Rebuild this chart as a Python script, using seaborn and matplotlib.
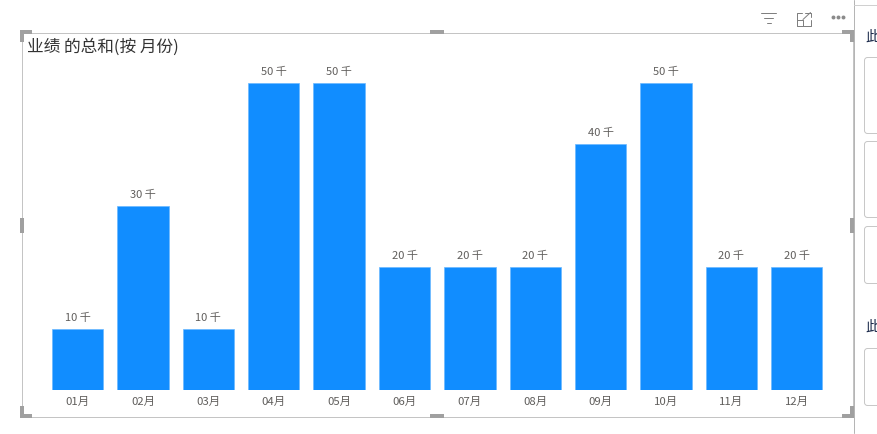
import pandas as pd
import seaborn as sns
import matplotlib
matplotlib.use('Agg')
import matplotlib.pyplot as plt
from matplotlib.patches import Rectangle, FancyBboxPatch

months = ['01月', '02月', '03月', '04月', '05月', '06月', '07月', '08月', '09月', '10月', '11月', '12月']
totals = [10000, 30000, 10000, 50000, 50000, 20000, 20000, 20000, 40000, 50000, 20000, 20000]
bar_labels = ['10 千', '30 千', '10 千', '50 千', '50 千', '20 千', '20 千', '20 千', '40 千', '50 千', '20 千', '20 千']
chart_title = '业绩 的总和(按 月份)'
side_title = '此'

W, H = 877, 434

sns.set_theme(style='white')
plt.rcParams['font.family'] = ['Noto Sans CJK SC', 'DejaVu Sans']

fig = plt.figure(figsize=(W / 100, H / 100), dpi=100)

# overlay in pixel coords for the report frame around the visual
bg = fig.add_axes([0, 0, 1, 1])
bg.set_xlim(0, W)
bg.set_ylim(H, 0)
bg.axis('off')

thin = 0.72  # one pixel at dpi 100
bg.add_patch(Rectangle((21.5, 32.5), 831, 384.5, fill=False, ec='#c4c4c4', lw=thin))
bg.plot([853.5, 853.5], [0, 433], color='#b5b5b5', lw=thin)
bg.plot([853.5, W], [4.5, 4.5], color='#d0d0d0', lw=thin)

# resize handles
handle = '#a0a0a0'
for x, y, w, h in [(20, 30, 12, 4), (20, 30, 4, 12), (842, 30, 12, 4), (850, 30, 4, 12),
                   (20, 414, 12, 4), (20, 406, 4, 12), (842, 414, 12, 4), (850, 406, 4, 12),
                   (430, 30, 14, 4), (430, 414, 14, 4), (20, 218, 4, 15), (850, 218, 4, 15)]:
    bg.add_patch(Rectangle((x, y), w, h, color=handle, lw=0))

# header icons
icon = '#808080'
bg.plot([761, 776], [12.5, 12.5], color=icon, lw=thin)
bg.plot([764, 773], [17.5, 17.5], color=icon, lw=thin)
bg.plot([766.5, 770.5], [22.5, 22.5], color=icon, lw=thin)
bg.plot([802, 796.5, 796.5, 810.5, 810.5], [12.5, 12.5, 25.5, 25.5, 20], color=icon, lw=thin)
bg.plot([796.5, 802.5, 802.5], [19.5, 19.5, 25.5], color=icon, lw=thin)
bg.plot([805, 810.5, 810.5], [12.5, 12.5, 17], color=icon, lw=thin)
bg.plot([803, 810.5], [19.5, 12.5], color=icon, lw=thin)
bg.scatter([832.5, 837.5, 842.5], [17, 17, 17], s=8, color='#8a8a8a', lw=0)

# right hand pane, cut off by the screenshot
for y, h in [(57, 76), (141, 76), (226, 57), (348, 57)]:
    bg.add_patch(FancyBboxPatch((864.5, y + 0.5), 30, h, boxstyle='round,pad=0,rounding_size=3',
                                fill=False, ec='#c8c8c8', lw=thin))
bg.text(865, 37, side_title, fontsize=10.5, color='#1f2d4d', va='center', ha='left')
bg.text(865, 327, side_title, fontsize=10.5, color='#1f2d4d', va='center', ha='left')

bg.text(27, 47, chart_title, fontsize=12, color='#333333', va='center', ha='left')

# chart: x range maps 45..829.4 px, y range 0..50 thousand maps 390.2..83 px
ax = fig.add_axes([45 / W, 1 - 390.2 / H, 784.4 / W, 307.2 / H])
ax.patch.set_alpha(0)
df = pd.DataFrame({'month': months, 'total': totals})
sns.barplot(data=df, x='month', y='total', color='#118DFF', saturation=1, width=0.785,
            edgecolor='#6bb9ff', linewidth=0.5, ax=ax)
ax.set_xlim(-0.5, 11.5)
ax.set_ylim(0, 50000)
ax.bar_label(ax.containers[0], labels=bar_labels, padding=4.3, fontsize=8, color='#605E5C', clip_on=False)
ax.set_xlabel('')
ax.set_ylabel('')
ax.set_yticks([])
ax.tick_params(axis='x', length=0, pad=5, labelsize=8.2, labelcolor='#605E5C')
sns.despine(ax=ax, left=True, bottom=True)

fig.savefig('out.png', dpi=100, facecolor='white')
